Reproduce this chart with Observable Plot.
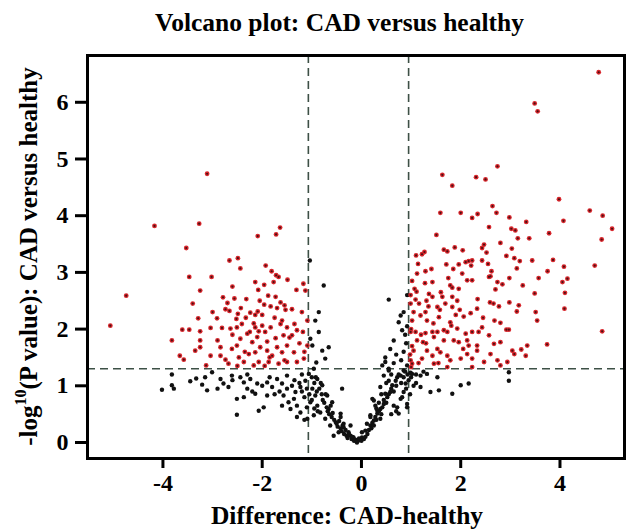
<!DOCTYPE html>
<html><head><meta charset="utf-8">
<script src="https://cdn.jsdelivr.net/npm/d3@7"></script>
<script src="https://cdn.jsdelivr.net/npm/@observablehq/plot@0.6"></script>
<style>
body{margin:0;background:#fff;width:633px;height:531px;overflow:hidden;font-family:"Liberation Serif",serif}
#title{position:absolute;left:0;top:3px;width:679px;height:40px;text-align:center;font-weight:bold;font-size:25.5px;line-height:40px;color:#000}
#chart{position:absolute;left:0;top:40px}
</style></head><body>
<div id="title">Volcano plot: CAD versus healthy</div>
<div id="chart"></div>
<script>
const titleText = "Volcano plot: CAD versus healthy";
const xLabel = "Difference: CAD-healthy";
const yLabelPre = "-log";
const yLabelSup = "10";
const yLabelPost = "(P value): CAD versus healthy";
const xTicks = [-4, -2, 0, 2, 4];
const yTicks = [0, 1, 2, 3, 4, 5, 6];
const foldCuts = [-1.07, 0.95];
const pCut = 1.301;

// significant, lower in CAD (red, left)
const sigDown = [
[-3.11,4.74],[-4.17,3.82],[-3.27,3.86],[-3.53,3.43],[-2.09,3.64],[-1.72,3.67],[-1.64,3.79],[-5.06,2.06],[-4.74,2.59],
[-2.66,3.21],[-2.49,3.25],[-2.44,3.07],[-1.93,3.12],[-1.81,3.02],[-1.72,2.95],[-1.67,2.92],[-1.49,2.87],[-3.47,2.92],[-3.02,2.92],
[-3.25,2.68],[-2.14,2.83],[-1.96,2.78],[-1.77,2.83],[-1.31,2.69],[-2.08,2.69],[-2.79,2.56],[-2.56,2.54],[-2.32,2.53],[-1.88,2.59],
[-1.73,2.57],[-1.96,2.43],[-1.83,2.40],[-1.63,2.47],[-1.55,2.42],[-1.70,2.37],[-1.53,2.34],[-2.70,2.46],[-2.74,2.35],[-2.66,2.32],
[-2.43,2.37],[-2.49,2.27],[-2.24,2.29],[-2.14,2.25],[-2.09,2.31],[-2.91,2.19],[-2.52,2.18],[-2.33,2.20],[-3.29,2.19],[-3.61,1.99],
[-3.47,1.99],[-3.82,1.80],[-3.25,1.96],[-3.04,2.02],[-2.81,2.02],[-2.64,2.01],[-2.51,2.03],[-2.41,2.09],[-2.17,2.10],[-2.14,2.03],
[-2.00,2.06],[-2.07,1.96],[-1.94,1.95],[-1.83,2.03],[-1.63,2.09],[-1.50,2.03],[-1.35,2.09],[-1.30,1.98],[-1.18,1.95],[-1.40,1.89],
[-1.57,1.89],[-1.73,1.84],[-1.90,1.78],[-2.10,1.86],[-2.20,1.77],[-2.30,1.92],[-2.44,1.83],[-2.51,1.71],[-2.61,1.65],[-2.84,1.68],
[-3.25,1.80],[-3.25,1.68],[-3.66,1.53],[-3.58,1.46],[-3.04,1.53],[-2.84,1.53],[-2.74,1.46],[-2.68,1.39],[-2.47,1.50],[-2.37,1.42],
[-2.27,1.56],[-2.14,1.59],[-2.04,1.68],[-1.90,1.62],[-1.80,1.53],[-1.70,1.68],[-1.60,1.59],[-1.50,1.71],[-1.36,1.59],[-1.30,1.42],
[-1.50,1.42],[-1.67,1.39],[-1.87,1.42],[-2.07,1.42],[-2.17,1.36],[-1.16,1.48],[-1.09,1.71],[-1.13,2.68],[-1.09,2.15],[-3.13,1.36],
[-3.35,1.62],[-1.17,2.80],
[-1.75,2.20],[-2.00,2.25],[-1.60,2.15],[-2.25,1.95],[-2.35,1.60],[-1.45,1.85],[-1.25,1.75],[-1.85,1.50],[-2.60,1.90],[-2.90,1.80],
[-1.20,2.30],[-1.15,1.60],[-1.40,2.35],[-2.05,2.50],[-2.60,2.75],[-1.55,1.45],[-1.95,1.35],[-2.50,1.35],[-3.00,2.30],[-3.40,2.45]
];

// significant, higher in CAD (red, right)
const sigUp = [
[4.78,6.53],[3.49,5.98],[3.55,5.84],[2.74,4.87],[1.63,4.72],[1.83,4.53],[2.31,4.68],[2.50,4.64],[3.98,4.29],[1.59,4.05],
[2.00,4.05],[2.23,3.96],[2.34,4.03],[2.64,4.17],[2.72,4.05],[2.98,3.97],[3.32,3.89],[4.07,3.91],[4.60,4.09],[4.86,4.00],
[5.05,3.77],[4.84,3.58],[3.78,3.69],[2.57,3.80],[3.02,3.77],[3.10,3.74],[1.51,3.66],[3.15,3.60],[3.38,3.60],[2.80,3.52],
[2.47,3.49],[2.43,3.43],[1.88,3.44],[1.66,3.40],[1.73,3.37],[2.04,3.39],[1.27,3.36],[1.22,3.32],[2.52,3.35],[3.03,3.42],
[2.92,3.29],[3.08,3.25],[3.19,3.20],[3.44,3.21],[3.86,3.22],[4.08,3.10],[4.70,3.12],[1.14,3.15],[1.71,3.14],[1.96,3.14],
[2.10,3.18],[2.16,3.20],[2.23,3.21],[2.43,3.21],[2.21,3.12],[2.55,3.15],[1.85,3.06],[1.41,3.06],[1.29,3.02],[1.12,2.98],
[2.62,3.02],[3.13,3.07],[3.75,3.02],[2.03,2.98],[2.57,2.92],[2.98,2.90],[3.57,2.90],[4.15,2.89],
[1.28,2.81],[1.43,2.83],[1.07,2.71],[1.11,2.66],[1.36,2.62],[1.43,2.57],[1.63,2.57],[1.79,2.77],[1.83,2.73],[1.96,2.71],
[2.13,2.86],[2.23,2.86],[2.60,2.93],[2.74,2.83],[2.84,2.79],[3.25,2.77],[4.05,2.83],[4.10,2.64],[4.09,2.36],[4.85,1.96],
[3.49,2.63],[3.51,2.30],[3.54,2.15],[1.09,2.52],[1.31,2.50],[1.16,2.45],[0.99,2.45],[1.53,2.39],[1.58,2.34],[1.69,2.45],
[1.83,2.57],[1.83,2.39],[1.93,2.50],[1.98,2.34],[1.29,2.30],[1.19,2.24],[1.02,2.15],[1.32,2.15],[1.56,2.21],[1.79,2.12],
[1.81,2.06],[2.06,2.22],[2.20,2.28],[2.34,2.53],[2.59,2.47],[2.66,2.45],[2.77,2.40],[2.98,2.47],[3.13,2.31],[3.17,2.42],
[2.33,2.36],[2.68,2.15],[2.80,2.11],[2.92,1.99],[2.97,1.99],[2.43,2.03],[2.36,1.95],[2.57,1.89],[2.23,1.95],[2.10,1.92],
[1.93,2.01],[1.73,1.95],[1.66,1.98],[1.53,1.95],[1.43,1.95],[1.29,1.93],[1.09,1.95],[0.99,1.95],[1.12,1.80],[1.24,1.77],
[1.46,1.86],[1.66,1.80],[1.86,1.80],[1.96,1.77],[2.13,1.80],[2.33,1.71],[2.16,1.71],[2.67,1.74],[2.80,1.77],[3.04,1.62],
[3.08,1.56],[3.22,1.64],[3.34,1.71],[3.31,1.53],[3.74,1.73],[1.05,1.62],[1.32,1.62],[1.53,1.65],[1.59,1.59],[1.73,1.53],
[1.43,1.53],[1.22,1.48],[1.79,1.45],[2.00,1.48],[2.13,1.56],[2.23,1.48],[2.33,1.62],[2.47,1.42],[2.60,1.56],[2.74,1.45],
[2.80,1.36],[2.94,1.42],[1.73,1.33],[1.46,1.39],[1.02,1.39],[0.99,1.45],[2.23,1.33],
[1.00,1.33],[0.98,1.55],[1.02,1.70],[1.00,2.00],[1.05,2.30],[0.99,2.60],[1.02,2.85],[1.10,3.30],[1.15,1.40],[1.30,1.75],
[1.45,2.10],[1.60,2.65],[1.75,2.90],[1.90,2.25],[2.05,1.65],[2.45,2.20],[2.70,2.70],[1.35,2.40],[1.55,1.40],[1.20,1.90]
];

// not significant (black)
const notSig = [
[-4.02,0.93],[-3.82,1.01],[-3.78,0.95],[-3.82,1.20],[-3.45,1.08],[-3.33,1.13],[-3.21,1.02],[-3.11,0.92],[-3.15,1.15],[-3.01,1.24],
[-2.84,1.12],[-2.78,1.04],[-2.68,0.98],[-2.51,0.77],[-2.37,0.80],[-2.51,0.49],[-2.07,0.56],[-1.97,0.62],[-1.90,0.83],[-2.14,0.86],
[-2.30,0.95],[-2.37,1.06],[-2.24,1.12],[-2.44,1.15],[-2.61,1.18],[-2.10,1.04],[-1.90,1.06],[-1.80,0.98],[-1.70,1.12],[-1.60,1.04],
[-1.50,0.95],[-1.57,0.83],[-1.47,0.71],[-1.36,0.77],[-1.43,0.59],[-1.30,0.65],[-1.23,0.53],[-1.33,0.89],[-1.23,0.98],[-1.13,1.09],
[-1.06,1.21],[-0.99,0.95],[-0.93,0.83],[-1.03,0.71],[-0.89,0.65],[-0.83,0.53],[-0.96,0.48],[-1.09,0.42],[-0.73,0.42],[-0.66,0.59],
[-0.59,0.71],[-0.69,0.83],[-0.79,1.01],[-0.89,1.12],[-0.96,1.30],[-0.52,0.36],[-0.42,0.45],[-0.36,0.27],[-0.26,0.18],[-0.16,0.09],
[-0.05,0.04],[-0.09,0.00],[0.01,0.09],[0.08,0.21],[0.18,0.30],[0.25,0.39],[0.32,0.51],[0.38,0.59],[0.45,0.68],[0.52,0.80],
[0.58,0.89],[0.62,1.01],[0.69,1.09],[0.79,1.18],[0.85,1.27],[0.92,1.36],[0.48,1.42],[0.55,1.27],[0.22,0.77],[0.28,0.65],
[0.18,0.48],[0.38,0.42],[0.65,0.65],[0.79,0.77],[0.85,0.89],[0.92,0.62],[0.75,0.51],[-0.56,0.12],[-0.39,0.95],[-0.22,0.30],
[-0.46,0.18],[-0.63,0.30],
[0.55,2.52],[0.79,2.24],[0.75,2.12],[0.82,1.98],[0.65,1.80],[0.58,1.65],[0.48,1.50],[0.42,1.36],[0.45,1.18],[0.55,1.09],
[0.38,0.98],[0.48,0.86],[0.25,0.74],[0.32,0.56],[0.18,0.45],[0.11,0.33],[0.01,0.18],[-0.22,0.12],[-0.36,0.33],[-0.42,0.51],
[0.89,1.04],[0.82,0.80],[0.92,0.68],[0.72,0.62],[1.19,1.18],[1.19,0.98],[1.39,0.89],[1.56,0.92],[1.53,1.15],[1.83,0.86],
[2.00,1.01],[2.16,1.04],[2.97,1.09],[2.97,1.24],[1.02,1.21],[1.32,1.21],[0.99,1.23],
[-0.76,2.77],[-1.04,3.21],[-0.86,2.30],[-0.93,2.15],[-0.66,1.68],[-0.73,1.48],[-0.86,1.95],[-1.03,1.83],[-0.79,1.62],[-0.99,1.71],
[-0.91,1.41],
[-1.00,1.15],[-0.95,1.05],[-0.90,0.90],[-0.85,0.95],[-0.80,0.85],[-0.78,0.75],[-0.75,0.70],[-0.70,0.62],[-0.68,0.55],[-0.65,0.50],
[-0.60,0.45],[-0.58,0.52],[-0.55,0.40],[-0.50,0.33],[-0.48,0.28],[-0.45,0.38],[-0.42,0.25],[-0.40,0.20],[-0.38,0.30],[-0.35,0.15],
[-0.32,0.22],[-0.30,0.12],[-0.28,0.08],[-0.25,0.14],[-0.20,0.06],[-0.18,0.10],[-0.15,0.03],[-0.12,0.05],[-0.10,0.02],[-0.05,0.07],
[0.00,0.03],[0.05,0.06],[-1.05,0.85],[-1.10,0.95],[-1.15,0.80],[-1.20,0.90],[-0.95,0.60],[-0.88,0.55],[-0.72,0.85],[-0.62,0.65],
[-1.00,0.75],[-0.92,1.15],[-0.82,1.05],[-1.25,1.05],[-1.35,1.10],[-1.40,1.00],[-1.20,1.20],[-1.50,1.18],[-1.65,0.90],[-1.75,0.85],
[-2.00,1.00],[-2.20,0.90],[-1.85,1.15],[-2.30,1.20],[-2.60,1.10],[-2.90,0.95],[-1.60,0.65],[-1.10,0.62],[-1.30,0.45],[-1.15,0.40],
[0.08,0.10],[0.12,0.15],[0.15,0.22],[0.20,0.25],[0.22,0.35],[0.25,0.30],[0.28,0.45],[0.30,0.40],[0.35,0.55],[0.40,0.50],
[0.42,0.62],[0.45,0.75],[0.50,0.70],[0.55,0.85],[0.60,0.95],[0.65,0.90],[0.70,1.00],[0.72,1.15],[0.75,1.20],[0.80,1.05],
[0.85,1.15],[0.88,1.25],[0.90,0.95],[0.95,1.10],[0.93,1.20],[0.60,1.20],[0.50,1.05],[0.40,0.85],[0.35,0.70],[0.30,0.60],
[0.55,1.30],[0.65,1.40],[0.70,1.55],[0.80,1.45],[0.85,1.60],[0.90,1.75],[0.88,1.90],[0.92,2.05],[0.85,2.30],[0.92,2.60],
[0.70,0.55],[0.60,0.50],[1.00,1.15],[1.05,1.00],[1.10,1.20],[0.98,0.85],[1.25,1.25],[1.10,1.05]
];

const dashColor = "#3d5046";
const plot = Plot.plot({
  width: 633, height: 491,
  marginTop: 15, marginBottom: 73, marginLeft: 87, marginRight: 9,
  style: {fontFamily: "Liberation Serif", fontWeight: "bold", fontSize: "24px", color: "#000", background: "#fff", overflow: "visible"},
  x: {domain: [-5.52, 5.30]},
  y: {domain: [-0.282, 6.825]},
  marks: [
    Plot.ruleX(foldCuts, {stroke: dashColor, strokeWidth: 1.6, strokeDasharray: "8,5"}),
    Plot.ruleY([pCut], {stroke: dashColor, strokeWidth: 1.6, strokeDasharray: "8,5"}),
    Plot.dot(notSig, {x: d => d[0], y: d => d[1], r: 2.2, fill: "#111", stroke: "none"}),
    Plot.dot(sigDown.concat(sigUp), {x: d => d[0], y: d => d[1], r: 2.4, fill: "#d8262c", stroke: "none"}),
    Plot.dot(sigDown.concat(sigUp), {x: d => d[0], y: d => d[1], r: 1.1, fill: "#4a1012", stroke: "none"}),
    Plot.frame({stroke: "#000", strokeWidth: 3}),
    Plot.axisX({ticks: xTicks, tickSize: 10, tickPadding: 5, strokeWidth: 3, tickFormat: d => String(d), label: null, fontSize: 24}),
    Plot.axisY({ticks: yTicks, tickSize: 12, tickPadding: 7, strokeWidth: 3, tickFormat: d => String(d), label: null, fontSize: 24}),
    Plot.text([xLabel], {text: d => d, frameAnchor: "bottom", dx: -9, dy: 57, fontSize: 25.5, lineAnchor: "middle", fill: "#000"})
  ]
});
document.getElementById("chart").appendChild(plot);

const svg = d3.select(plot);
const yl = svg.append("text")
  .attr("transform", `translate(37,${(15 + 418) / 2}) rotate(-90)`)
  .attr("text-anchor", "middle")
  .style("font-family", "Liberation Serif")
  .style("font-weight", "bold")
  .style("font-size", "25px")
  .attr("fill", "#000");
yl.append("tspan").text(yLabelPre);
yl.append("tspan").attr("dy", -11).style("font-size", "16px").text(yLabelSup);
yl.append("tspan").attr("dy", 11).text(yLabelPost);
</script></body></html>
